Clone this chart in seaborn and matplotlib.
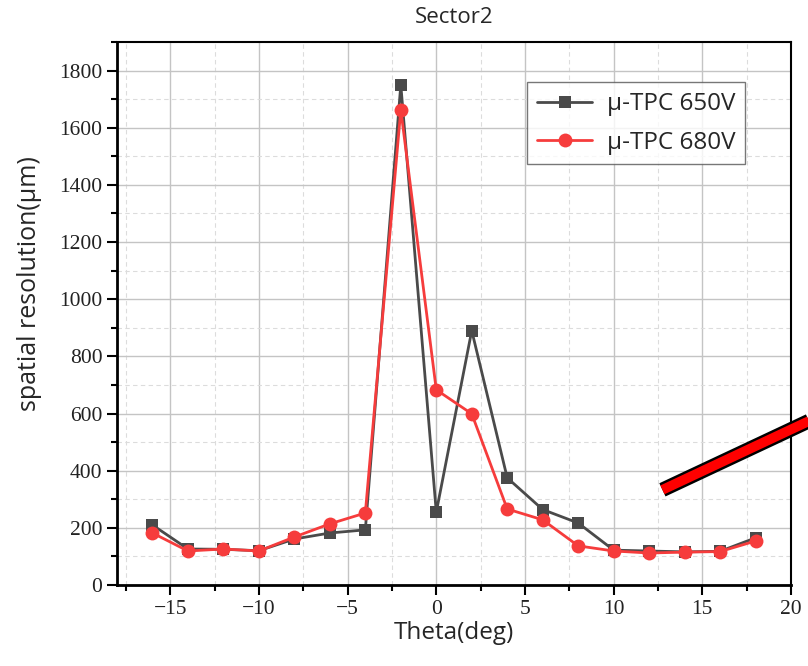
import matplotlib
matplotlib.use("Agg")
import matplotlib.pyplot as plt
import matplotlib.patheffects as pe
from matplotlib.ticker import MultipleLocator
import seaborn as sns
import pandas as pd

theta = [-16, -14, -12, -10, -8, -6, -4, -2, 0, 2, 4, 6, 8, 10, 12, 14, 16, 18]
res_650 = [210, 126, 125, 120, 161, 182, 193, 1750, 255, 890, 375, 264, 217, 122, 119, 116, 118, 165]
res_680 = [182, 119, 126, 119, 168, 214, 252, 1663, 683, 599, 266, 228, 137, 119, 112, 115, 117, 154]
labels = ["μ-TPC 650V", "μ-TPC 680V"]

df = pd.concat([
    pd.DataFrame({"theta": theta, "res": res_650, "series": labels[0]}),
    pd.DataFrame({"theta": theta, "res": res_680, "series": labels[1]}),
])

sns.set_style("white")
plt.rcParams["font.family"] = ["Open Sans", "DejaVu Sans"]

fig = plt.figure(figsize=(8.08, 6.66), dpi=100)
ax = fig.add_axes([0.1448, 0.1216, 0.8342, 0.8154])

colors = {labels[0]: "#4a4a4a", labels[1]: "#f63c3c"}
markers = {labels[0]: "s", labels[1]: "o"}
for name in labels:
    sub = df[df["series"] == name]
    sns.lineplot(data=sub, x="theta", y="res", ax=ax, color=colors[name],
                 marker=markers[name], markersize=9 if name == labels[0] else 10,
                 markeredgewidth=0, linewidth=2, label=name, zorder=3)

ax.set_xlim(-18, 20)
ax.set_ylim(0, 1900)
ax.xaxis.set_major_locator(MultipleLocator(5))
ax.xaxis.set_minor_locator(MultipleLocator(2.5))
ax.yaxis.set_major_locator(MultipleLocator(200))
ax.yaxis.set_minor_locator(MultipleLocator(100))

ax.grid(which="major", color="#c4c4c4", linewidth=1.0, linestyle="-")
ax.grid(which="minor", color="#dcdcdc", linewidth=0.8, linestyle=(0, (4, 3)))
ax.set_axisbelow(True)

for side in ["left", "bottom", "top", "right"]:
    ax.spines[side].set_visible(True)
    ax.spines[side].set_color("black")
ax.spines["left"].set_linewidth(2.0)
ax.spines["bottom"].set_linewidth(2.0)
ax.spines["top"].set_linewidth(1.5)
ax.spines["right"].set_linewidth(1.5)

ax.tick_params(axis="both", which="major", direction="out", length=7, width=1.5,
               color="black", labelsize=15.5, bottom=True, left=True, top=False, right=False)
ax.tick_params(axis="both", which="minor", direction="out", length=4, width=1.5,
               color="black", bottom=True, left=True, top=False, right=False)
for lab in ax.get_xticklabels() + ax.get_yticklabels():
    lab.set_fontfamily("Liberation Serif")
    lab.set_color("#222222")

ax.set_xlabel("Theta(deg)", fontsize=17.5, labelpad=2)
ax.set_ylabel("spatial resolution(μm)", fontsize=18)
ax.yaxis.set_label_coords(-0.111, 0.556)
ax.set_title("Sector2", fontsize=16, pad=14)

leg = ax.legend(loc="upper left", bbox_to_anchor=(0.59, 0.948), fontsize=17.5,
                frameon=True, fancybox=False, edgecolor="#555555",
                handlelength=2.3, borderpad=0.4, labelspacing=0.6, handletextpad=0.6)
leg.get_frame().set_linewidth(1.0)

# Red annotation bar leaving the plot toward the right edge
ax.plot([12.75, 21.5], [333, 588], color="#ff0000", linewidth=7, solid_capstyle="butt",
        clip_on=False, zorder=5,
        path_effects=[pe.Stroke(linewidth=10.5, foreground="black"), pe.Normal()])

fig.savefig("out.png", dpi=100)
